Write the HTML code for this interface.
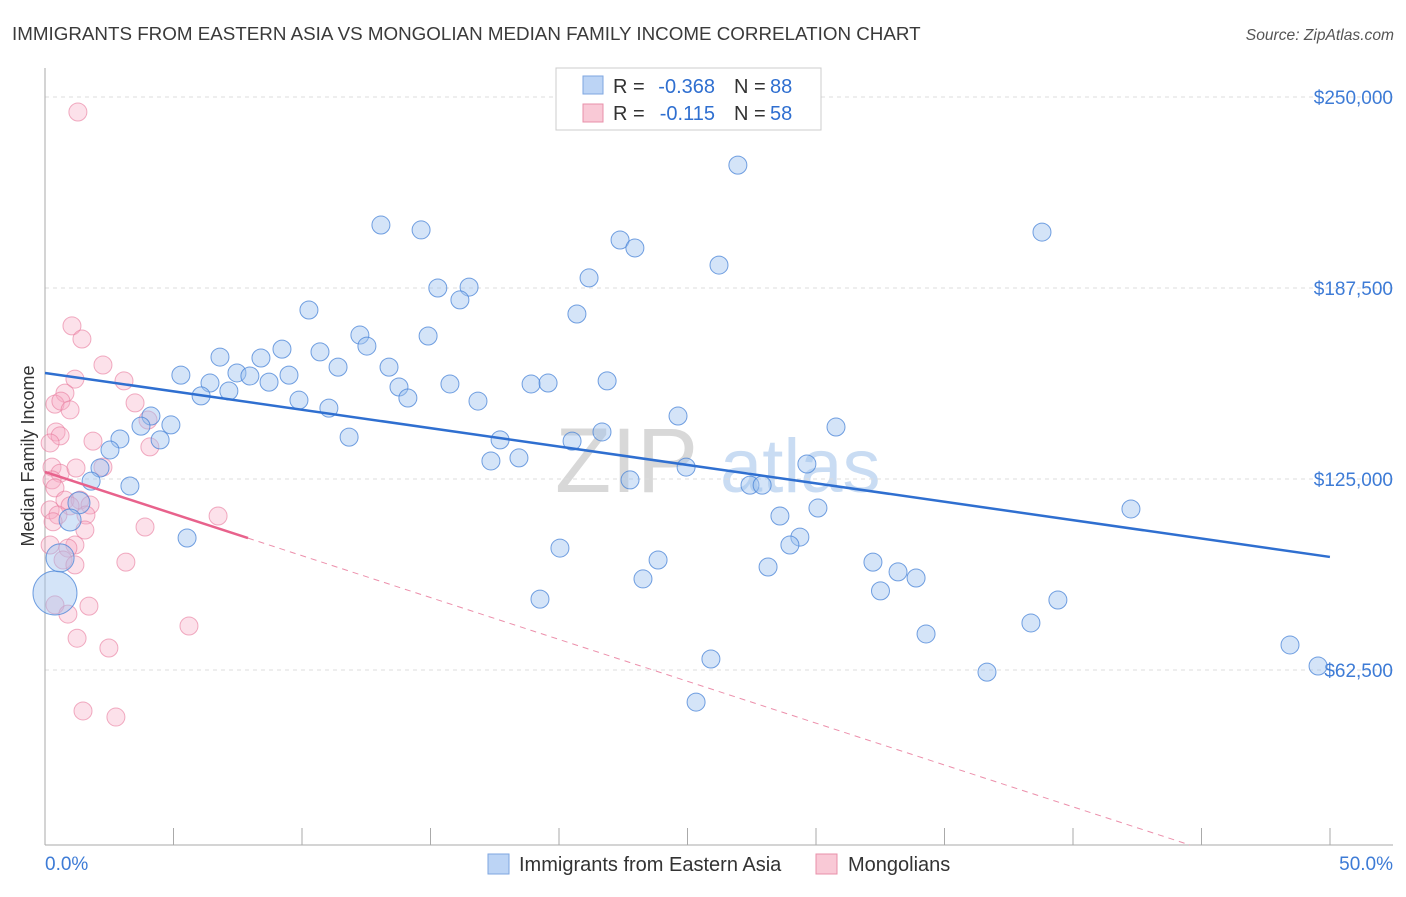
<!DOCTYPE html>
<html><head><meta charset="utf-8"><style>
body{margin:0;background:#fff;font-family:"Liberation Sans",sans-serif;}
svg text{font-family:"Liberation Sans",sans-serif;}
</style></head><body>
<svg id="c" width="1406" height="892">
<text x="12" y="40" font-size="18.8" fill="#3a3a3a">IMMIGRANTS FROM EASTERN ASIA VS MONGOLIAN MEDIAN FAMILY INCOME CORRELATION CHART</text>
<text x="1394" y="40" font-size="15.6" fill="#555" text-anchor="end" font-style="italic">Source: ZipAtlas.com</text>
<text x="34" y="456" font-size="18" fill="#333" text-anchor="middle" transform="rotate(-90 34 456)">Median Family Income</text>
<text x="555" y="492" font-size="92" fill="#d8d8d8" font-family="Liberation Serif">ZIP</text>
<text x="720" y="492" font-size="76" fill="#c9dcf3">atlas</text>
<g id="grid"></g><g id="marks"></g>
<g>
<rect x="556" y="68" width="265" height="62" fill="#fff" stroke="#ccc"/>
<rect x="583" y="76" width="20" height="18" fill="#bcd4f5" stroke="#7ea6e0"/>
<text x="613" y="93" font-size="20" fill="#333">R =</text>
<text x="715" y="93" font-size="20" fill="#2f6fd0" text-anchor="end">-0.368</text>
<text x="734" y="93" font-size="20" fill="#333">N =</text>
<text x="770" y="93" font-size="20" fill="#2f6fd0">88</text>
<rect x="583" y="104" width="20" height="18" fill="#f9c9d6" stroke="#e890aa"/>
<text x="613" y="120" font-size="20" fill="#333">R =</text>
<text x="715" y="120" font-size="20" fill="#2f6fd0" text-anchor="end">-0.115</text>
<text x="734" y="120" font-size="20" fill="#333">N =</text>
<text x="770" y="120" font-size="20" fill="#2f6fd0">58</text>
</g>
<g>
<rect x="488" y="854" width="21" height="20" fill="#bcd4f5" stroke="#7ea6e0"/>
<text x="519" y="871" font-size="20" fill="#333">Immigrants from Eastern Asia</text>
<rect x="816" y="854" width="21" height="20" fill="#f9c9d6" stroke="#e890aa"/>
<text x="848" y="871" font-size="20" fill="#333">Mongolians</text>
</g>
<text x="45" y="870" font-size="19" fill="#3d7bd6">0.0%</text>
<text x="1393" y="870" font-size="19" fill="#3d7bd6" text-anchor="end">50.0%</text>
</svg>
<script>
const yTicks=[62500,125000,187500,250000];
const yTickLabels=["$62,500","$125,000","$187,500","$250,000"];
const blueX=[25.7,12.46,13.95,36.98,21.33,21.88,25.0,20.18,14.57,15.73,15.39,9.79,19.73,11.68,14.21,11.94,8.79,10.2,6.49,8.01,10.87,12.76,5.04,7.12,7.6,9.05,6.12,8.31,13.13,15.02,18.03,18.66,20.85,6.82,5.79,13.46,9.42,16.06,10.53,3.93,23.48,3.56,4.67,29.34,11.28,20.66,2.78,4.27,16.88,19.55,2.41,16.54,17.58,23.78,28.26,2.04,1.71,3.15,21.7,26.15,26.6,28.67,40.28,27.26,1.26,0.93,5.27,28.0,27.63,19.1,22.74,30.71,26.82,31.64,32.31,22.18,30.99,37.57,18.36,36.57,32.68,24.7,46.18,47.22,34.94,24.15,0.37,0.56];
const blueY=[227.7,208.1,206.5,205.8,203.2,200.6,195.0,190.8,187.5,187.8,183.6,180.3,179.0,172.1,171.8,168.5,167.5,166.6,164.9,164.6,161.6,161.6,159.0,159.7,158.7,159.0,156.4,156.7,155.1,156.1,156.1,156.4,157.1,153.8,152.2,151.5,150.8,150.5,148.2,145.6,145.6,142.3,142.7,142.0,138.7,140.4,138.1,137.8,137.8,137.4,134.5,130.9,131.9,128.9,129.9,128.6,124.3,122.7,124.7,123.0,123.0,115.5,115.2,112.9,117.2,111.6,105.7,106.0,103.4,102.4,98.5,97.8,96.2,94.6,92.6,92.3,88.4,85.4,85.7,77.9,74.3,66.1,70.7,63.8,61.8,52.0,87.7,99.2];
const blueR=[9,9,9,9,9,9,9,9,9,9,9,9,9,9,9,9,9,9,9,9,9,9,9,9,9,9,9,9,9,9,9,9,9,9,9,9,9,9,9,9,9,9,9,9,9,9,9,9,9,9,9,9,9,9,9,9,9,9,9,9,9,9,9,9,11,11,9,9,9,9,9,9,9,9,9,9,9,9,9,9,9,9,9,9,9,9,22,14];
const pinkX=[1.22,1.0,1.37,2.15,1.11,2.93,0.74,0.37,0.59,0.93,3.34,3.82,0.41,0.56,1.78,3.89,0.19,0.26,0.56,1.15,2.15,0.26,0.37,0.74,1.3,1.67,0.19,0.93,0.48,1.52,6.42,1.48,3.71,1.11,0.85,0.67,1.11,3.0,0.19,1.63,0.37,0.85,1.19,5.34,2.37,1.41,2.63,0.3];
const pinkY=[245.1,175.1,170.8,162.3,157.7,157.1,153.1,149.5,150.5,147.6,149.9,144.3,140.4,139.1,137.4,135.5,136.8,128.9,126.9,128.6,128.9,124.7,122.1,118.1,118.1,116.5,114.9,116.2,113.2,113.2,112.9,108.3,109.3,103.4,102.4,98.5,96.9,97.8,103.4,83.4,83.8,80.8,72.9,76.9,69.7,49.1,47.1,111.0];
const blueTrend=[159.7,99.5], blueTrendX=[0,47.66];
const pinkTrend=[127.3,-2.874], pinkSolidEnd=7.53, pinkDashEnd=42.47;
const X=v=>45+(v/50)*1348;
const Y=v=>97+(250-v)*3.056;
const NS="http://www.w3.org/2000/svg";
const grid=document.getElementById('grid'), marks=document.getElementById('marks');
function mk(tag,attrs,parent){const e=document.createElementNS(NS,tag);for(const k in attrs)e.setAttribute(k,attrs[k]);parent.appendChild(e);return e;}
yTicks.forEach((t,i)=>{
 const l=mk('line',{x1:45,x2:1393,y1:Y(t/1000),y2:Y(t/1000),stroke:'#ddd','stroke-dasharray':'4 4'},grid);
 
 
 const tx=mk('text',{x:1393,y:Y(t/1000)+7,'font-size':19,fill:'#3d7bd6','text-anchor':'end'},grid);
 tx.textContent=yTickLabels[i];
 
 
});
mk('line',{x1:45,x2:45,y1:68,y2:845,stroke:'#aaa'},grid);
mk('line',{x1:45,x2:1393,y1:845,y2:845,stroke:'#aaa'},grid);
for(let i=0;i<=10;i++){const x=45+i*128.5;const t=mk('line',{x1:x,x2:x,y1:828,y2:845,stroke:'#aaa'},grid);
 
 }
pinkX.forEach((v,i)=>{const c=mk('circle',{cx:X(v),cy:Y(pinkY[i]),r:9,fill:'rgba(247,170,195,0.35)',stroke:'rgba(232,120,155,0.6)','stroke-width':1},marks);
 
 });
blueX.forEach((v,i)=>{const c=mk('circle',{cx:X(v),cy:Y(blueY[i]),r:blueR[i],fill:'rgba(160,195,240,0.45)',stroke:'rgba(70,130,215,0.75)','stroke-width':1},marks);
 
 });
const bt=mk('line',{x1:X(blueTrendX[0]),y1:Y(blueTrend[0]),x2:X(blueTrendX[1]),y2:Y(blueTrend[1]),stroke:'#2f6fd0','stroke-width':2.5},marks);


const pd=mk('line',{x1:X(pinkSolidEnd),y1:Y(pinkTrend[0]+pinkTrend[1]*pinkSolidEnd),x2:X(pinkDashEnd),y2:Y(pinkTrend[0]+pinkTrend[1]*pinkDashEnd),stroke:'#ec8fab','stroke-width':1,'stroke-dasharray':'6 5'},marks);


const ps=mk('line',{x1:X(0),y1:Y(pinkTrend[0]),x2:X(pinkSolidEnd),y2:Y(pinkTrend[0]+pinkTrend[1]*pinkSolidEnd),stroke:'#e8628c','stroke-width':2.5},marks);


</script>
</body></html>
